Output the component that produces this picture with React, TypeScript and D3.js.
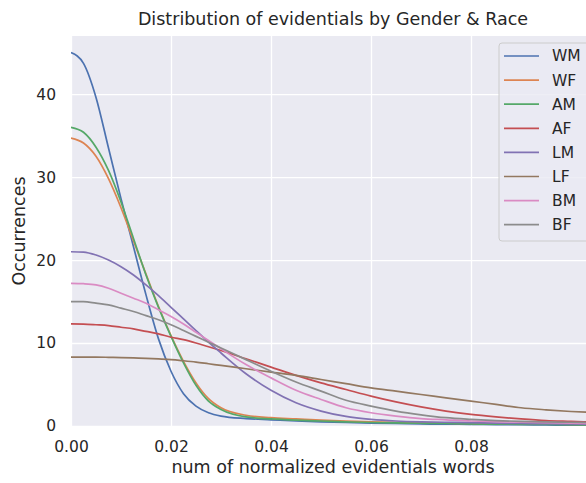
import React, { useRef, useEffect } from 'react'
import * as d3 from 'd3'

// x positions where each curve was sampled
const xs = [0, 0.0025, 0.005, 0.0075, 0.01, 0.0125, 0.015, 0.0175, 0.02, 0.0225, 0.025, 0.0275, 0.03,
  0.035, 0.04, 0.045, 0.05, 0.055, 0.06, 0.065, 0.07, 0.075, 0.08, 0.085, 0.09, 0.095, 0.1, 0.105]

const groups = ['WM', 'WF', 'AM', 'AF', 'LM', 'LF', 'BM', 'BF']

const wm = [45.0, 43.7, 39.6, 33.5, 27.4, 21.6, 15.8, 10.5, 6.6, 3.9, 2.4, 1.6, 1.2, 0.9, 0.75, 0.6, 0.5, 0.42, 0.35, 0.3, 0.25, 0.22, 0.2, 0.17, 0.15, 0.12, 0.1, 0.1]
const wf = [34.7, 34.1, 32.5, 29.8, 26.3, 22.3, 18.3, 14.4, 10.9, 7.8, 5.2, 3.3, 2.2, 1.3, 1.0, 0.85, 0.7, 0.6, 0.5, 0.45, 0.4, 0.35, 0.3, 0.28, 0.25, 0.22, 0.2, 0.18]
const am = [36.0, 35.4, 33.6, 30.8, 27.0, 22.6, 18.2, 14.3, 10.8, 7.6, 4.9, 3.0, 2.0, 1.1, 0.85, 0.7, 0.6, 0.5, 0.42, 0.38, 0.33, 0.3, 0.25, 0.22, 0.2, 0.18, 0.15, 0.12]
const af = [12.3, 12.28, 12.2, 12.1, 11.9, 11.7, 11.4, 11.1, 10.7, 10.4, 10.0, 9.55, 9.1, 8.1, 7.1, 6.1, 5.2, 4.4, 3.6, 2.9, 2.3, 1.8, 1.4, 1.1, 0.85, 0.65, 0.55, 0.45]
const lm = [21.0, 20.95, 20.6, 20.0, 19.2, 18.2, 17.0, 15.7, 14.3, 12.9, 11.5, 10.1, 8.8, 6.3, 4.3, 2.8, 1.8, 1.15, 0.8, 0.6, 0.5, 0.45, 0.4, 0.35, 0.3, 0.27, 0.25, 0.2]
const lf = [8.3, 8.3, 8.3, 8.28, 8.25, 8.2, 8.15, 8.08, 8.0, 7.86, 7.7, 7.5, 7.3, 6.9, 6.5, 6.1, 5.6, 5.1, 4.6, 4.2, 3.8, 3.4, 3.0, 2.6, 2.2, 1.95, 1.75, 1.6]
const bm = [17.2, 17.15, 17.0, 16.6, 16.0, 15.4, 14.8, 14.0, 13.2, 12.3, 11.3, 10.3, 9.3, 7.4, 5.8, 4.3, 3.2, 2.2, 1.6, 1.2, 0.9, 0.75, 0.6, 0.52, 0.45, 0.4, 0.35, 0.3]
const bf = [15.0, 14.98, 14.8, 14.6, 14.2, 13.8, 13.3, 12.8, 12.2, 11.5, 10.8, 10.1, 9.4, 8.0, 6.6, 5.3, 4.2, 3.1, 2.4, 1.8, 1.35, 1.0, 0.8, 0.65, 0.55, 0.5, 0.45, 0.4]

const seriesValues = [wm, wf, am, af, lm, lf, bm, bf]
const colors = ['#4C72B0', '#DD8452', '#55A868', '#C44E52', '#8172B3', '#937860', '#DA8BC3', '#8C8C8C']

const xTicks = [0, 0.02, 0.04, 0.06, 0.08]
const yTicks = [0, 10, 20, 30, 40]

const title = 'Distribution of evidentials by Gender & Race'
const xAxisLabel = 'num of normalized evidentials words'
const yAxisLabel = 'Occurrences'

const App = () => {
  const visEl = useRef(null)
  const width = 586
  const height = 483

  useEffect(() => {
    document.body.style.margin = '0'
    const root = d3.select(visEl.current)
    root.selectAll('*').remove()
    const svg = root.append('svg')
      .attr('width', width)
      .attr('height', height)
      .style('display', 'block')
      .style('font-family', '"DejaVu Sans", sans-serif')

    const margin = { top: 36, right: -9, bottom: 57, left: 71 }
    const innerWidth = width - margin.left - margin.right
    const innerHeight = height - margin.top - margin.bottom

    const xScale = d3.scaleLinear().domain([0, 0.1048]).range([0, innerWidth])
    const yScale = d3.scaleLinear().domain([0, 47]).range([innerHeight, 0])

    const g = svg.append('g').attr('transform', `translate(${margin.left},${margin.top})`)

    g.append('rect')
      .attr('width', innerWidth)
      .attr('height', innerHeight)
      .attr('fill', '#EAEAF2')

    const xAxis = d3.axisBottom(xScale).tickValues(xTicks).tickFormat(d3.format('.2f'))
      .tickSize(-innerHeight).tickPadding(15)
    const yAxis = d3.axisLeft(yScale).tickValues(yTicks).tickFormat(d3.format('d'))
      .tickSize(-innerWidth).tickPadding(15)

    const styleAxis = (sel) => {
      sel.select('.domain').remove()
      sel.selectAll('line').attr('stroke', '#ffffff').attr('stroke-width', 1.3)
      sel.selectAll('text').attr('fill', '#262626').style('font-size', '15.5px')
        .style('font-family', '"DejaVu Sans", sans-serif')
    }

    g.append('g').attr('transform', `translate(0,${innerHeight})`).call(xAxis).call(styleAxis)
    g.append('g').call(yAxis).call(styleAxis)

    const lineGenerator = d3.line()
      .x((d) => xScale(d[0]))
      .y((d) => yScale(d[1]))
      .curve(d3.curveMonotoneX)

    const clip = svg.append('clipPath').attr('id', 'plot-clip')
    clip.append('rect').attr('width', innerWidth).attr('height', innerHeight)

    const lines = g.append('g').attr('clip-path', 'url(#plot-clip)')
    seriesValues.forEach((vals, i) => {
      lines.append('path')
        .attr('d', lineGenerator(vals.map((v, j) => [xs[j], v])))
        .attr('fill', 'none')
        .attr('stroke', colors[i])
        .attr('stroke-width', 1.7)
    })

    svg.append('text')
      .attr('x', margin.left + innerWidth / 2)
      .attr('y', 19)
      .attr('dy', '0.35em')
      .attr('text-anchor', 'middle')
      .attr('fill', '#262626')
      .style('font-size', '17.5px')
      .text(title)

    svg.append('text')
      .attr('x', margin.left + innerWidth / 2)
      .attr('y', 467)
      .attr('dy', '0.35em')
      .attr('text-anchor', 'middle')
      .attr('fill', '#262626')
      .style('font-size', '17.5px')
      .text(xAxisLabel)

    svg.append('text')
      .attr('transform', 'rotate(-90)')
      .attr('x', -(margin.top + innerHeight / 2))
      .attr('y', 19)
      .attr('dy', '0.35em')
      .attr('text-anchor', 'middle')
      .attr('fill', '#262626')
      .style('font-size', '17.5px')
      .text(yAxisLabel)

    // legend
    const legend = svg.append('g').attr('transform', 'translate(499,43)')
    legend.append('rect')
      .attr('width', 100)
      .attr('height', 198)
      .attr('rx', 3)
      .attr('fill', '#EAEAF2')
      .attr('fill-opacity', 0.8)
      .attr('stroke', '#cccccc')
      .attr('stroke-width', 1)
    groups.forEach((name, i) => {
      const y = 13 + i * 24.1
      legend.append('line')
        .attr('x1', 5).attr('x2', 40)
        .attr('y1', y).attr('y2', y)
        .attr('stroke', colors[i])
        .attr('stroke-width', 1.7)
      legend.append('text')
        .attr('x', 53)
        .attr('y', y)
        .attr('dy', '0.35em')
        .attr('fill', '#262626')
        .style('font-size', '15.5px')
        .text(name)
    })
  }, [])

  return (
    <div>
      <div ref={visEl}></div>
    </div>
  )
}

export default App
